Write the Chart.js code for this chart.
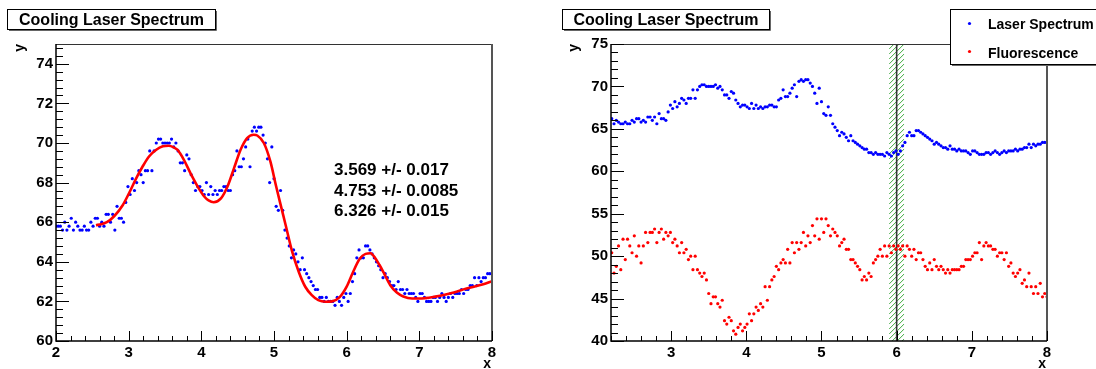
<!DOCTYPE html>
<html><head><meta charset="utf-8">
<script src="https://cdn.jsdelivr.net/npm/chart.js@4.4.0/dist/chart.umd.min.js"></script>
<style>
html,body{margin:0;padding:0;background:#fff;}
#wrap{position:relative;width:1096px;height:369px;overflow:hidden;background:#fff}
.c{position:absolute;top:0;width:548px;height:369px}
</style></head><body>
<div id="wrap">
<div class="c" style="left:0"><canvas id="left" width="548" height="369"></canvas></div>
<div class="c" style="left:548px"><canvas id="right" width="548" height="369"></canvas></div>
</div>
<script>
// ---------------- data ----------------
const xs = [
2.00,2.03,2.06,2.09,2.12,2.15,2.18,2.21,2.24,2.27,
2.30,2.33,2.36,2.39,2.42,2.45,2.48,2.51,2.54,2.57,
2.60,2.63,2.66,2.69,2.72,2.75,2.78,2.81,2.84,2.87,
2.90,2.93,2.96,2.99,3.02,3.05,3.08,3.11,3.14,3.17,
3.20,3.23,3.26,3.29,3.32,3.35,3.38,3.41,3.44,3.47,
3.50,3.53,3.56,3.59,3.62,3.65,3.68,3.71,3.74,3.77,
3.80,3.83,3.86,3.89,3.92,3.95,3.98,4.01,4.04,4.07,
4.10,4.13,4.16,4.19,4.22,4.25,4.28,4.31,4.34,4.37,
4.40,4.43,4.46,4.49,4.52,4.55,4.58,4.61,4.64,4.67,
4.70,4.73,4.76,4.79,4.82,4.85,4.88,4.91,4.94,4.97,
5.00,5.03,5.06,5.09,5.12,5.15,5.18,5.21,5.24,5.27,
5.30,5.33,5.36,5.39,5.42,5.45,5.48,5.51,5.54,5.57,
5.60,5.63,5.66,5.69,5.72,5.75,5.78,5.81,5.84,5.87,
5.90,5.93,5.96,5.99,6.02,6.05,6.08,6.11,6.14,6.17,
6.20,6.23,6.26,6.29,6.32,6.35,6.38,6.41,6.44,6.47,
6.50,6.53,6.56,6.59,6.62,6.65,6.68,6.71,6.74,6.77,
6.80,6.83,6.86,6.89,6.92,6.95,6.98,7.01,7.04,7.07,
7.10,7.13,7.16,7.19,7.22,7.25,7.28,7.31,7.34,7.37,
7.40,7.43,7.46,7.49,7.52,7.55,7.58,7.61,7.64,7.67,
7.70,7.73,7.76,7.79,7.82,7.85,7.88,7.91,7.94,7.97,
8.00];

const laser = [
65.8,65.8,65.8,65.6,66.0,65.6,65.8,66.2,65.6,66.0,
65.8,65.6,65.6,65.8,65.6,65.6,66.0,65.8,66.2,66.2,
65.8,66.0,65.8,66.4,66.4,66.0,66.4,65.6,66.8,66.2,
66.2,66.0,67.0,67.8,67.4,68.2,67.6,68.0,68.6,68.4,
68.0,68.6,68.6,69.6,68.6,69.6,70.0,70.2,70.2,70.0,
70.0,70.0,70.0,70.2,69.8,70.0,69.6,69.0,69.0,68.6,
69.4,69.2,68.4,68.0,67.6,67.8,67.8,67.6,67.4,68.0,
67.4,67.8,67.4,67.6,67.4,67.6,67.6,67.8,67.8,67.6,
67.6,68.4,68.6,69.6,68.8,68.8,69.2,69.8,70.2,68.8,
70.6,70.8,70.6,70.8,70.8,70.4,70.0,69.2,68.0,69.8,
68.2,66.8,66.6,67.6,66.6,65.6,65.2,64.8,64.2,64.6,
64.4,64.0,63.6,64.2,63.6,63.4,63.2,63.0,62.8,62.6,
62.6,62.2,62.2,62.0,62.2,62.0,62.0,62.0,61.8,62.2,
62.0,61.8,62.2,62.4,62.0,62.4,63.0,63.4,64.2,64.6,
64.2,64.2,64.8,64.8,64.6,64.4,64.2,64.0,63.8,63.6,
63.2,63.4,63.2,63.0,62.8,62.8,62.6,63.0,62.6,62.6,
62.4,62.6,62.4,62.4,62.4,62.2,62.0,62.4,62.4,62.2,
62.0,62.0,62.0,62.2,62.2,62.0,62.2,62.4,62.2,62.0,
62.2,62.4,62.2,62.4,62.4,62.4,62.6,62.4,62.6,62.6,
62.8,62.8,63.2,62.8,63.2,63.0,63.2,63.2,63.4,63.4,
63.4];

// fluorescence is sampled on xs starting at index FLUOR_START (x = 2.21)
const FLUOR_START = 7;
const fluor = [
50.4,48.0,48.8,51.2,48.4,52.0,49.6,52.0,51.2,50.4,
52.4,50.0,51.2,49.2,51.2,52.8,51.6,52.8,52.8,53.2,
51.6,52.8,53.2,52.0,52.8,52.4,52.8,51.6,52.0,51.2,
50.4,51.6,50.4,50.8,49.6,50.0,48.4,50.0,48.4,48.0,
47.6,48.0,47.2,45.6,44.4,45.2,45.2,44.4,44.0,44.8,
42.4,42.0,42.8,42.4,41.2,40.8,41.6,42.0,41.2,41.6,
42.0,43.2,42.4,43.2,44.0,43.6,44.4,44.0,46.4,44.8,
46.4,47.2,47.6,48.8,48.4,49.2,49.6,49.2,50.8,49.2,
51.6,50.4,51.6,50.8,51.6,52.8,51.2,52.4,51.6,53.6,
52.4,54.4,52.0,54.4,52.8,54.4,53.6,52.4,53.2,52.8,
52.4,51.2,51.6,52.0,50.8,50.8,49.6,49.6,49.2,48.8,
48.4,47.2,47.6,47.2,48.0,47.6,49.2,49.6,50.0,50.8,
50.0,51.2,50.0,51.2,50.4,51.2,50.8,51.2,50.8,51.2,
50.0,51.2,50.8,50.0,50.8,49.6,50.4,50.4,49.6,48.8,
48.4,49.2,48.4,49.6,48.8,48.4,48.8,48.4,48.0,48.4,
48.0,48.4,48.4,48.4,48.4,48.8,48.8,49.6,49.6,49.6,
50.0,50.4,50.4,51.6,49.6,51.2,51.6,51.2,51.2,50.8,
50.8,50.0,50.4,50.4,49.6,50.4,48.8,49.2,48.0,47.6,
48.0,48.4,46.8,47.2,46.4,48.0,46.4,45.6,46.4,45.6,
46.8,45.2,45.6,45.2];

// fitted curve
const fitX = [2.55,2.62,2.70,2.80,2.92,3.01,3.10,3.19,3.28,3.38,3.47,3.55,3.62,3.67,3.76,3.85,3.95,4.04,4.10,4.17,4.27,4.36,4.45,4.54,4.63,4.72,4.77,4.86,4.95,5.03,5.10,5.16,5.25,5.34,5.43,5.52,5.61,5.71,5.80,5.90,6.00,6.09,6.18,6.26,6.33,6.39,6.45,6.51,6.60,6.69,6.78,6.90,7.00,7.20,7.42,7.65,7.88,8.00];
const fitY = [65.85,65.90,66.00,66.30,66.87,67.50,68.19,68.80,69.32,69.66,69.83,69.86,69.78,69.66,69.15,68.48,67.80,67.30,67.10,67.01,67.20,67.80,68.73,69.66,70.25,70.42,70.38,70.00,69.07,67.80,66.75,65.86,64.51,63.50,62.74,62.32,62.06,61.98,62.00,62.20,62.75,63.50,64.15,64.40,64.43,64.20,63.85,63.45,62.82,62.45,62.25,62.15,62.15,62.23,62.40,62.65,62.87,63.02];

const fitLabels = ["3.569 +/- 0.017", "4.753 +/- 0.0085", "6.326 +/- 0.015"];
const titleText = "Cooling Laser Spectrum";
const legendLabels = ["Laser Spectrum", "Fluorescence"];
const axisTitleX = "x", axisTitleY = "y";
const bandFrom = 5.9, bandTo = 6.1, bandLine = 6.0;

// ---------------- drawing helpers ----------------
const FONT = '"Liberation Sans", Arial, Helvetica, sans-serif';
const BLUE = '#0000ff', RED = '#ff0000';

function drawBox(ctx, x0, y0, x1, y1) {
  ctx.fillStyle = '#fff';
  ctx.fillRect(x0, y0, x1 - x0, y1 - y0);
  ctx.strokeStyle = '#000'; ctx.lineWidth = 1;
  ctx.strokeRect(x0 + 0.5, y0 + 0.5, x1 - x0 - 1, y1 - y0 - 1);
  ctx.strokeStyle = '#666';
  ctx.beginPath();
  ctx.moveTo(x0 + 2, y1 + 0.5); ctx.lineTo(x1 + 0.5, y1 + 0.5); ctx.lineTo(x1 + 0.5, y0 + 2);
  ctx.stroke();
}

function drawAxesDecor(chart, cfg) {
  const {ctx, chartArea: a} = chart;
  const xS = chart.scales.x, yS = chart.scales.y;
  ctx.save();
  ctx.strokeStyle = '#333'; ctx.lineWidth = 1;
  ctx.beginPath(); ctx.moveTo(a.left, a.top + 0.5); ctx.lineTo(a.right, a.top + 0.5); ctx.stroke();
  ctx.strokeStyle = '#555'; ctx.lineWidth = 2;
  ctx.beginPath(); ctx.moveTo(a.right, a.top); ctx.lineTo(a.right, a.bottom); ctx.stroke();
  ctx.strokeStyle = '#000'; ctx.lineWidth = 1.5;
  ctx.beginPath(); ctx.moveTo(a.left, a.top); ctx.lineTo(a.left, a.bottom); ctx.lineTo(a.right, a.bottom); ctx.stroke();
  ctx.lineWidth = 1;
  ctx.beginPath();
  const k0 = Math.ceil(xS.min / cfg.xMinor - 1e-6), k1 = Math.floor(xS.max / cfg.xMinor + 1e-6);
  for (let k = k0; k <= k1; k++) {
    const v = k * cfg.xMinor;
    const major = Math.abs(v / cfg.xMajor - Math.round(v / cfg.xMajor)) < 1e-6;
    const px = Math.round(xS.getPixelForValue(v)) + 0.5;
    ctx.moveTo(px, a.bottom); ctx.lineTo(px, a.bottom - (major ? 10 : 5));
  }
  const j0 = Math.ceil(yS.min / cfg.yMinor - 1e-6), j1 = Math.floor(yS.max / cfg.yMinor + 1e-6);
  for (let j = j0; j <= j1; j++) {
    const v = j * cfg.yMinor;
    const major = Math.abs(v / cfg.yMajor - Math.round(v / cfg.yMajor)) < 1e-6;
    const py = Math.round(yS.getPixelForValue(v)) + 0.5;
    ctx.moveTo(a.left, py); ctx.lineTo(a.left + (major ? 13 : 7), py);
  }
  ctx.stroke();
  ctx.fillStyle = '#000';
  ctx.font = 'bold 14px ' + FONT;
  ctx.textAlign = 'right'; ctx.textBaseline = 'alphabetic';
  ctx.fillText(axisTitleX, a.right - 1, 368);
  ctx.save();
  ctx.translate(cfg.yTitleX, a.top);
  ctx.rotate(-Math.PI / 2);
  ctx.textAlign = 'right';
  ctx.fillText(axisTitleY, 0, 0);
  ctx.restore();
  drawBox(ctx, cfg.title[0], cfg.title[1], cfg.title[2], cfg.title[3]);
  ctx.fillStyle = '#000';
  ctx.font = 'bold 16px ' + FONT;
  ctx.textAlign = 'center'; ctx.textBaseline = 'alphabetic';
  ctx.fillText(titleText, (cfg.title[0] + cfg.title[2]) / 2, 25);
  ctx.restore();
}

function makePlugin(cfg) {
  return {
    id: 'decor_' + cfg.name,
    beforeDatasetsDraw(chart) {
      if (!cfg.band) return;
      const {ctx, chartArea: a} = chart;
      const xS = chart.scales.x;
      const x0 = xS.getPixelForValue(bandFrom), x1 = xS.getPixelForValue(bandTo);
      const w = x1 - x0;
      ctx.save();
      ctx.beginPath(); ctx.rect(x0, a.top, w, a.bottom - a.top); ctx.clip();
      ctx.strokeStyle = '#2aa02a'; ctx.lineWidth = 0.9;
      ctx.beginPath();
      for (let yy = a.top - w - 5; yy < a.bottom + 5; yy += 5) {
        ctx.moveTo(x0, yy + w); ctx.lineTo(x1, yy);
      }
      ctx.stroke();
      ctx.restore();
      const xc = xS.getPixelForValue(bandLine);
      ctx.save();
      ctx.strokeStyle = '#333'; ctx.lineWidth = 1.6;
      ctx.beginPath(); ctx.moveTo(xc, a.top); ctx.lineTo(xc, a.bottom); ctx.stroke();
      ctx.restore();
    },
    afterDraw(chart) {
      const ctx = chart.ctx;
      drawAxesDecor(chart, cfg);
      ctx.save();
      ctx.fillStyle = '#000';
      if (cfg.fitText) {
        ctx.font = 'bold 17px ' + FONT;
        ctx.textAlign = 'left'; ctx.textBaseline = 'alphabetic';
        const base = [175, 195.5, 216];
        fitLabels.forEach((t, i) => ctx.fillText(t, 334, base[i]));
      }
      if (cfg.legend) {
        drawBox(ctx, 402, 9, 560, 65);
        ctx.font = 'bold 14px ' + FONT;
        ctx.textAlign = 'left'; ctx.textBaseline = 'alphabetic';
        const cols = [BLUE, RED], ys = [23.5, 51.5], bl = [29, 57.5];
        legendLabels.forEach((t, i) => {
          ctx.fillStyle = cols[i];
          ctx.beginPath(); ctx.arc(421.5, ys[i], 1.6, 0, Math.PI * 2); ctx.fill();
          ctx.fillStyle = '#000';
          ctx.fillText(t, 440, bl[i]);
        });
      }
      ctx.restore();
    }
  };
}

function scaleOpts(min, max, step, axis, fitSize) {
  return {
    type: 'linear', min: min, max: max,
    grid: {display: false, drawTicks: false},
    border: {display: false},
    ticks: {
      stepSize: step, includeBounds: false, autoSkip: false,
      color: '#000', padding: 3,
      font: {family: FONT, size: 15, weight: 'bold'}
    },
    afterFit(s) { if (axis === 'x') s.height = fitSize; else s.width = fitSize; }
  };
}

const pts = (xArr, yArr) => yArr.map((v, i) => ({x: xArr[i], y: v}));

new Chart(document.getElementById('left'), {
  type: 'scatter',
  data: {
    datasets: [
      {label: 'fit', data: pts(fitX, fitY), showLine: true, borderColor: RED, borderWidth: 2.6,
       pointRadius: 0, cubicInterpolationMode: 'monotone', fill: false},
      {label: 'data', data: pts(xs, laser), backgroundColor: BLUE, borderWidth: 0, pointRadius: 1.6}
    ]
  },
  options: {
    responsive: false, animation: false, events: [], devicePixelRatio: 1,
    layout: {padding: {top: 44, right: 56, left: 0, bottom: 0}},
    plugins: {legend: {display: false}, tooltip: {enabled: false}, title: {display: false}},
    scales: {
      x: scaleOpts(2, 8, 1, 'x', 28),
      y: scaleOpts(60, 75, 2, 'y', 56)
    }
  },
  plugins: [makePlugin({name: 'l', xMajor: 1, xMinor: 0.2, yMajor: 2, yMinor: 0.4,
    yTitleX: 24, title: [7, 9, 216, 30], fitText: true})]
});

const xsF = xs.slice(FLUOR_START);
const laserR = laser.slice(FLUOR_START);
new Chart(document.getElementById('right'), {
  type: 'scatter',
  data: {
    datasets: [
      {label: legendLabels[0], data: pts(xsF, laserR), backgroundColor: BLUE, borderWidth: 0, pointRadius: 1.6},
      {label: legendLabels[1], data: pts(xsF, fluor), backgroundColor: RED, borderWidth: 0, pointRadius: 1.6}
    ]
  },
  options: {
    responsive: false, animation: false, events: [], devicePixelRatio: 1,
    layout: {padding: {top: 44, right: 49, left: 0, bottom: 0}},
    plugins: {legend: {display: false}, tooltip: {enabled: false}, title: {display: false}},
    scales: {
      x: scaleOpts(2.2, 8, 1, 'x', 28),
      y: scaleOpts(40, 75, 5, 'y', 63)
    }
  },
  plugins: [makePlugin({name: 'r', xMajor: 1, xMinor: 0.2, yMajor: 5, yMinor: 1,
    yTitleX: 30, title: [14, 9, 222, 30], band: true, legend: true})]
});
</script>
</body></html>
